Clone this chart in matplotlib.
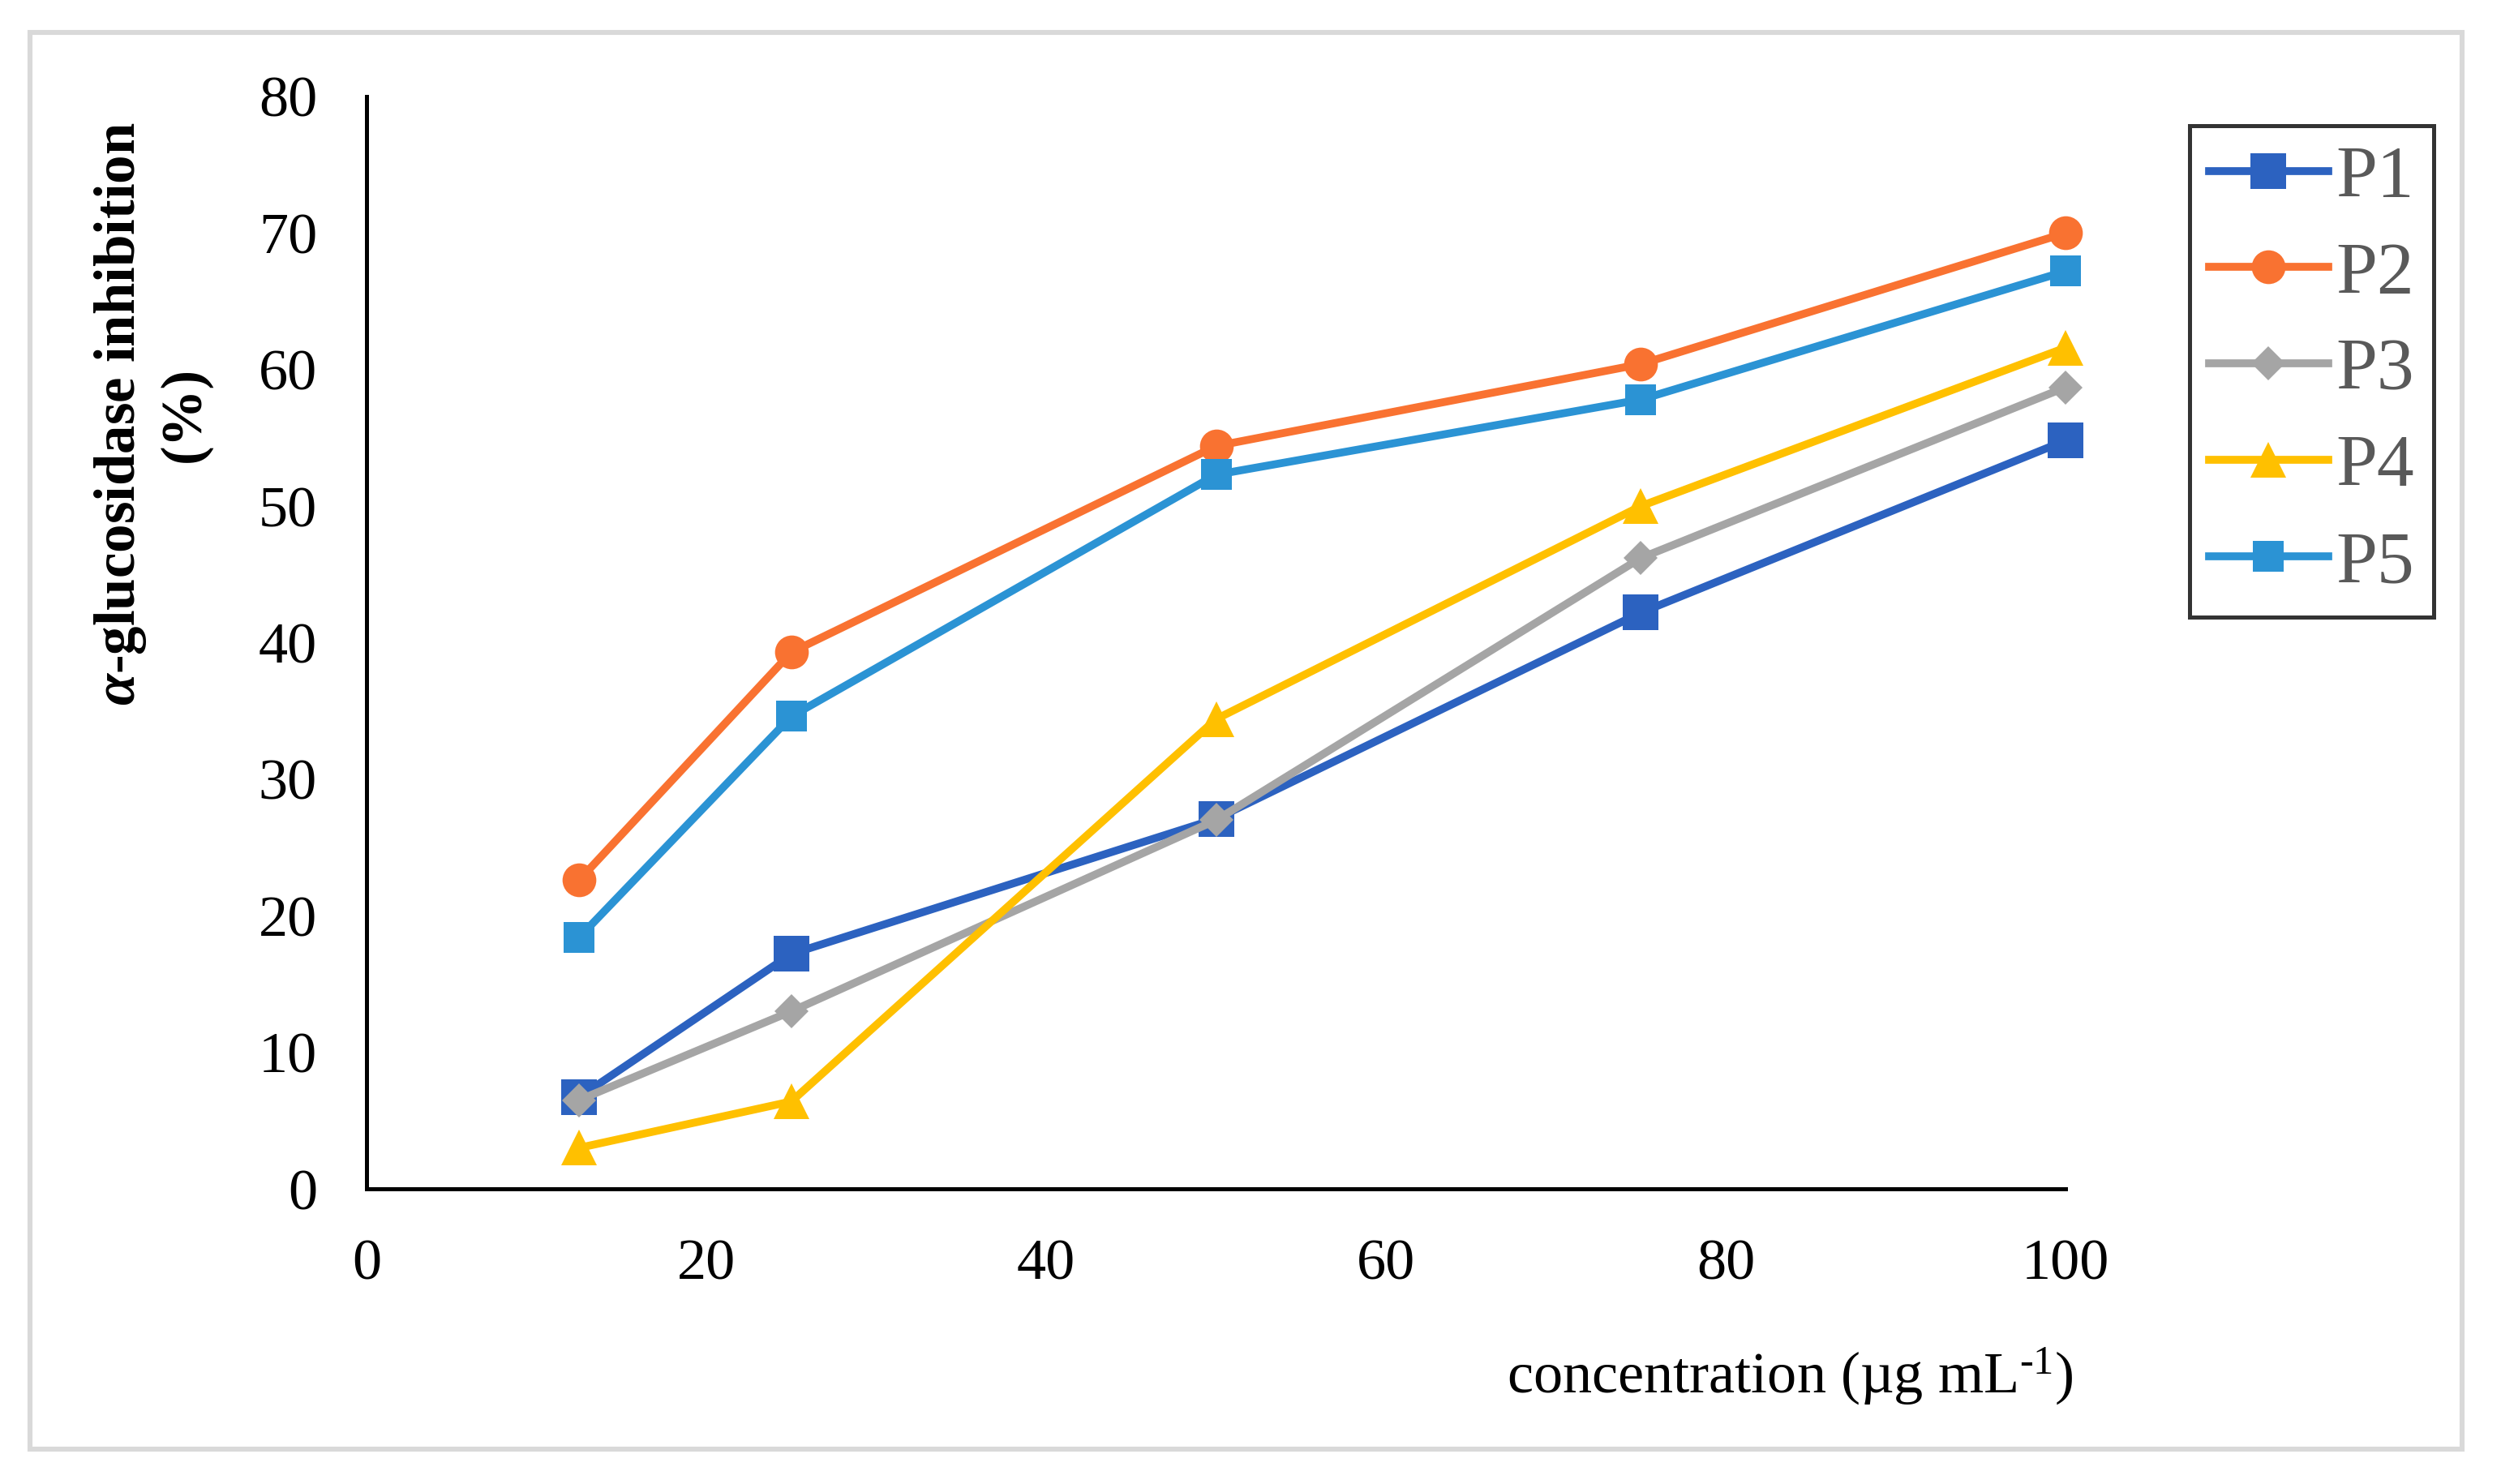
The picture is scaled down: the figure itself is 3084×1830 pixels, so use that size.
import matplotlib
matplotlib.use("Agg")
import matplotlib.pyplot as plt
from matplotlib.patches import Rectangle

plt.rcParams['font.family'] = ['Liberation Serif', 'DejaVu Serif']
plt.rcParams['mathtext.fontset'] = 'custom'
plt.rcParams['mathtext.rm'] = 'Liberation Serif'
plt.rcParams['mathtext.it'] = 'Liberation Serif:italic:bold'
plt.rcParams['mathtext.bf'] = 'Liberation Serif:bold'

# ---- data ----
concentration = [12.5, 25, 50, 75, 100]
P1 = [6.7, 17.2, 27.1, 42.2, 54.8]
P2 = [22.6, 39.3, 54.4, 60.4, 70.0]
P3 = [6.5, 13.0, 27.0, 46.2, 58.7]
P4 = [3.0, 6.4, 34.4, 50.0, 61.6]
P5 = [18.4, 34.6, 52.3, 57.8, 67.2]
series_names = ['P1', 'P2', 'P3', 'P4', 'P5']
x_ticks = [0, 20, 40, 60, 80, 100]
y_ticks = [0, 10, 20, 30, 40, 50, 60, 70, 80]

colors = ['#2C62C0', '#F97231', '#A5A5A5', '#FFC000', '#2B93D4']
markers = ['s', 'o', 'D', '^', 's']
msizes = [15.5, 15, 10.5, 16, 14]

fig = plt.figure(figsize=(15.42, 9.15), dpi=200)
fig.patch.set_facecolor('white')
fig.patches.append(Rectangle((0.012, 0.0235), 0.9724, 0.9545, transform=fig.transFigure,
                             fill=False, edgecolor='#D9D9D9', linewidth=2.2, zorder=0))

ax = fig.add_axes([0.1466, 0.1989, 0.6793, 0.7361])
for name, vals, c, m, ms in zip(series_names, [P1, P2, P3, P4, P5], colors, markers, msizes):
    ax.plot(concentration, vals, color=c, marker=m, markersize=ms, linewidth=3.5,
            markeredgewidth=0, label=name, clip_on=False)

ax.set_xlim(0, 100)
ax.set_ylim(0, 80)
ax.set_xticks(x_ticks)
ax.set_yticks(y_ticks)
ax.tick_params(axis='both', length=0, pad=22, labelsize=26, colors='black')
for s in ['top', 'right']:
    ax.spines[s].set_visible(False)
for s in ['left', 'bottom']:
    ax.spines[s].set_linewidth(1.8)
    ax.spines[s].set_color('black')

fig.text(0.0607, 0.721, '$\\alpha$-glucosidase inhibition\n(%)', rotation=90,
         ha='center', va='center', multialignment='center', fontsize=25.5,
         fontweight='bold', linespacing=1.25)
fig.text(0.829, 0.0732, 'concentration (\u00b5g mL$^{\\text{-}1}$)', ha='right', va='center',
         fontsize=26)

leg = fig.legend(loc='upper left', bbox_to_anchor=(0.8755, 0.9155), bbox_transform=fig.transFigure,
                 borderaxespad=0, frameon=True, fancybox=False, fontsize=33,
                 handlelength=1.6, handletextpad=0.11, labelspacing=0.39,
                 borderpad=0.26)
leg.get_frame().set_edgecolor('black')
leg.get_frame().set_linewidth(1.8)
for t in leg.get_texts():
    t.set_color('#595959')

fig.savefig('out.png', dpi=200)
